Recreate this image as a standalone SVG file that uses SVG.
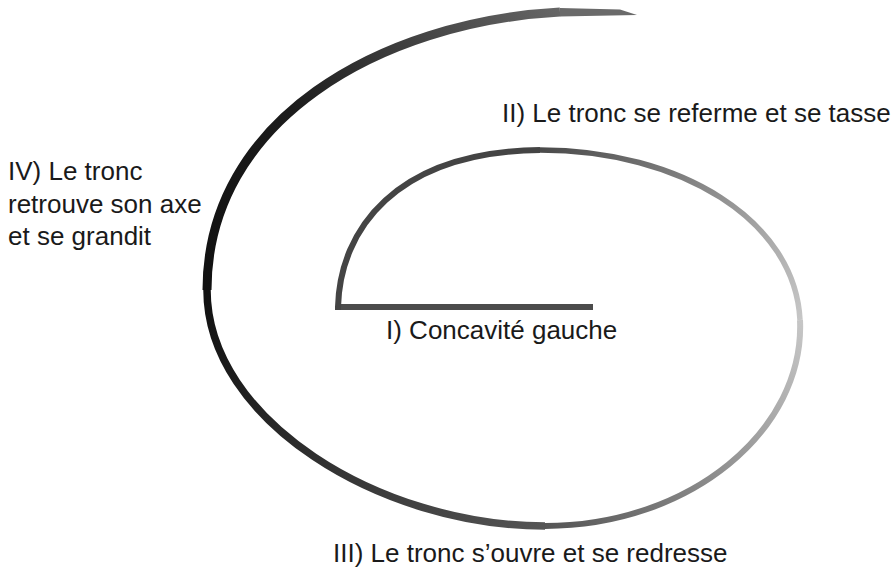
<svg xmlns="http://www.w3.org/2000/svg" width="895" height="569" viewBox="0 0 895 569">
<style>
  .lbl { font-family: "Liberation Sans", Arial, sans-serif; font-size: 26px; fill: #1a1a1a; }
  .sp { fill: none; stroke-linecap: butt; stroke-linejoin: round; }
</style>
<defs>
  <linearGradient id="gC" gradientUnits="userSpaceOnUse" x1="540" y1="150" x2="800" y2="320">
    <stop offset="0" stop-color="#4a4a4a"/><stop offset="1" stop-color="#c6c6c6"/>
  </linearGradient>
  <linearGradient id="gD" gradientUnits="userSpaceOnUse" x1="800" y1="320" x2="545" y2="526">
    <stop offset="0" stop-color="#c6c6c6"/><stop offset="1" stop-color="#555"/>
  </linearGradient>
  <linearGradient id="gE" gradientUnits="userSpaceOnUse" x1="545" y1="526" x2="207" y2="290">
    <stop offset="0" stop-color="#555"/><stop offset="1" stop-color="#111"/>
  </linearGradient>
  <linearGradient id="gF" gradientUnits="userSpaceOnUse" x1="207" y1="290" x2="560" y2="12">
    <stop offset="0" stop-color="#111"/><stop offset="0.4" stop-color="#1c1c1c"/><stop offset="1" stop-color="#666"/>
  </linearGradient>
</defs>
<g id="spiral">
  <path class="sp" d="M593,307 L338,307" stroke="#4c4c4c" stroke-width="6"/>
  <path class="sp" d="M338,310 L338,307 C340,230 395,152 540,150" stroke="#444" stroke-width="6"/>
  <path class="sp" d="M540,150 C680,150 795,220 800,320" stroke="url(#gC)" stroke-width="5.5"/>
  <path class="sp" d="M800,320 C805,430 690,526 545,526" stroke="url(#gD)" stroke-width="6"/>
  <path class="sp" d="M545,526 C380,526 207,420 207,290" stroke="url(#gE)" stroke-width="7.5"/>
  <path class="sp" d="M207,290 C207,120 380,22 560,12" stroke="url(#gF)" stroke-width="9"/>
  <path d="M560,8 L620,9.5 L637,15 L560,16.5 Z" fill="#6a6a6a"/>
</g>
<g id="labels">
  <text class="lbl" x="386" y="339">I) Concavité gauche</text>
  <text class="lbl" x="502" y="122">II) Le tronc se referme et se tasse</text>
  <text class="lbl" x="333" y="562">III) Le tronc s’ouvre et se redresse</text>
  <text class="lbl" x="8" y="180">IV) Le tronc</text>
  <text class="lbl" x="8" y="213">retrouve son axe</text>
  <text class="lbl" x="8" y="245">et se grandit</text>
</g>
</svg>
